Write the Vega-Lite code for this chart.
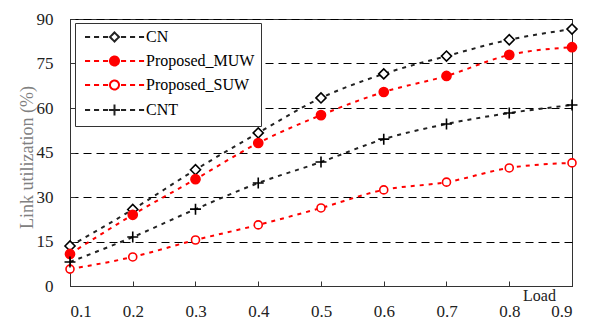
{
  "$schema": "https://vega.github.io/schema/vega-lite/v6.json",
  "width": 502,
  "height": 267,
  "autosize": "none",
  "padding": {"left": 70, "top": 19, "right": 22, "bottom": 34},
  "background": "#ffffff",
  "config": {
    "view": {"stroke": "#333333", "strokeWidth": 1},
    "font": "'Liberation Serif', 'Times New Roman', Times, serif"
  },
  "data": {
    "values": [
      {"load": 0.1, "series": "CN", "value": 13.5},
      {"load": 0.2, "series": "CN", "value": 25.8},
      {"load": 0.3, "series": "CN", "value": 39.2},
      {"load": 0.4, "series": "CN", "value": 51.6},
      {"load": 0.5, "series": "CN", "value": 63.4},
      {"load": 0.6, "series": "CN", "value": 71.5},
      {"load": 0.7, "series": "CN", "value": 77.5},
      {"load": 0.8, "series": "CN", "value": 83.0},
      {"load": 0.9, "series": "CN", "value": 86.6},
      {"load": 0.1, "series": "Proposed_MUW", "value": 10.8},
      {"load": 0.2, "series": "Proposed_MUW", "value": 24.0},
      {"load": 0.3, "series": "Proposed_MUW", "value": 36.0},
      {"load": 0.4, "series": "Proposed_MUW", "value": 48.2},
      {"load": 0.5, "series": "Proposed_MUW", "value": 57.6},
      {"load": 0.6, "series": "Proposed_MUW", "value": 65.4},
      {"load": 0.7, "series": "Proposed_MUW", "value": 70.8},
      {"load": 0.8, "series": "Proposed_MUW", "value": 77.9},
      {"load": 0.9, "series": "Proposed_MUW", "value": 80.5},
      {"load": 0.1, "series": "Proposed_SUW", "value": 5.7},
      {"load": 0.2, "series": "Proposed_SUW", "value": 9.8},
      {"load": 0.3, "series": "Proposed_SUW", "value": 15.5},
      {"load": 0.4, "series": "Proposed_SUW", "value": 20.6},
      {"load": 0.5, "series": "Proposed_SUW", "value": 26.3},
      {"load": 0.6, "series": "Proposed_SUW", "value": 32.4},
      {"load": 0.7, "series": "Proposed_SUW", "value": 35.0},
      {"load": 0.8, "series": "Proposed_SUW", "value": 39.8},
      {"load": 0.9, "series": "Proposed_SUW", "value": 41.5},
      {"load": 0.1, "series": "CNT", "value": 8.1},
      {"load": 0.2, "series": "CNT", "value": 16.5},
      {"load": 0.3, "series": "CNT", "value": 25.9},
      {"load": 0.4, "series": "CNT", "value": 34.7},
      {"load": 0.5, "series": "CNT", "value": 41.8},
      {"load": 0.6, "series": "CNT", "value": 49.5},
      {"load": 0.7, "series": "CNT", "value": 54.6},
      {"load": 0.8, "series": "CNT", "value": 58.3},
      {"load": 0.9, "series": "CNT", "value": 61.0}
    ]
  },
  "encoding": {
    "x": {
      "field": "load", "type": "quantitative",
      "scale": {"domain": [0.1, 0.9], "nice": false, "zero": false},
      "axis": {
        "values": [0.1, 0.2, 0.3, 0.4, 0.5, 0.6, 0.7, 0.8, 0.9],
        "format": ".1f", "grid": false,
        "domainColor": "#333333", "tickColor": "#333333",
        "tickSize": -5, "labelPadding": 22,
        "labelFontSize": 17, "labelColor": "#222222",
        "title": "Load", "titleX": 469, "titleY": 9,
        "titleAlign": "center", "titleBaseline": "middle",
        "titleFontSize": 16, "titleFontWeight": "normal", "titleColor": "#222222"
      }
    },
    "y": {
      "field": "value", "type": "quantitative",
      "scale": {"domain": [0, 90], "nice": false},
      "axis": {
        "values": [0, 15, 30, 45, 60, 75, 90],
        "grid": true, "gridDash": [8, 5], "gridColor": "#000000", "gridWidth": 1,
        "domainColor": "#333333", "tickColor": "#333333",
        "tickSize": -5, "labelPadding": 22,
        "labelFontSize": 17, "labelColor": "#222222",
        "title": "Link utilization (%)", "titlePadding": 0, "titleY": 138,
        "titleFontSize": 18, "titleFontWeight": "normal", "titleColor": "#808080"
      }
    }
  },
  "layer": [
    {
      "mark": {"type": "line", "strokeWidth": 2, "strokeDash": [4, 5], "interpolate": "monotone"},
      "encoding": {
        "color": {
          "field": "series", "type": "nominal",
          "scale": {"domain": ["CN", "Proposed_MUW", "Proposed_SUW", "CNT"], "range": ["#222222", "#ff0000", "#ff0000", "#222222"]},
          "legend": {
            "orient": "none", "legendX": 5, "legendY": 4,
            "title": null, "padding": 6,
            "strokeColor": "#333333", "fillColor": "#ffffff",
            "symbolSize": 3600, "rowPadding": 6, "labelOffset": 3,
            "labelFontSize": 16, "labelColor": "#000000", "labelLimit": 0,
            "symbolStrokeWidth": 2,
            "encode": {
              "symbols": {
                "update": {
                  "size": {"value": 3600},
                  "y": {"value": 8},
                  "strokeDash": {"value": [1, 0]},
                  "shape": {"signal": "datum.value === 'CN' ? 'M-0.9,0H-0.73M-0.6,0H-0.43M-0.3,0H-0.13M0.3,0H0.47M0.6,0H0.77M0.9,0H1.07M0.083,-0.15L0.233,0L0.083,0.15L-0.067,0Z' : datum.value === 'CNT' ? 'M-0.9,0H-0.73M-0.6,0H-0.43M-0.3,0H-0.13M0.3,0H0.47M0.6,0H0.77M0.9,0H1.07M-0.1,0H0.267M0.083,-0.18V0.18' : 'M-0.9,0H-0.73M-0.6,0H-0.43M-0.3,0H-0.13M0.3,0H0.47M0.6,0H0.77M0.9,0H1.07M0.233,0A0.15,0.15,0,1,1,-0.067,0A0.15,0.15,0,1,1,0.233,0Z'"},
                  "fill": {"signal": "datum.value === 'Proposed_MUW' ? '#ff0000' : '#ffffff'"}
                }
              },
              "labels": {
                "update": {
                  "y": {"value": 8}
                }
              }
            }
          }
        },
        "detail": {"field": "series"}
      }
    },
    {
      "mark": {"type": "point", "strokeWidth": 1.6, "opacity": 1},
      "encoding": {
        "stroke": {
          "field": "series", "type": "nominal",
          "scale": {"domain": ["CNT", "CN", "Proposed_MUW", "Proposed_SUW"], "range": ["#000000", "#000000", "#ff0000", "#ff0000"]},
          "legend": null
        },
        "fill": {
          "field": "series", "type": "nominal",
          "scale": {"domain": ["CNT", "CN", "Proposed_MUW", "Proposed_SUW"], "range": ["#000000", "#ffffff", "#ff0000", "#ffffff"]},
          "legend": null
        },
        "shape": {
          "field": "series", "type": "nominal",
          "scale": {"domain": ["CNT", "CN", "Proposed_MUW", "Proposed_SUW"], "range": ["M-1,0H1M0,-1V1", "diamond", "circle", "circle"]},
          "legend": null
        },
        "size": {
          "field": "series", "type": "nominal",
          "scale": {"domain": ["CNT", "CN", "Proposed_MUW", "Proposed_SUW"], "range": [120, 64, 80, 70]},
          "legend": null
        }
      }
    }
  ]
}
